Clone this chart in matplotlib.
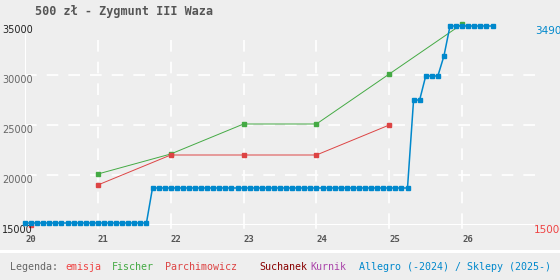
import matplotlib
matplotlib.use('Agg')
import matplotlib.pyplot as plt
import matplotlib.transforms as mtrans
from matplotlib.patches import Rectangle
import numpy as np

# --- data ---
# Allegro / Sklepy: monthly prices starting Jan 2020
allegro_vals = [15200] * 21 + [18700] * 43 + [27500, 27500, 29900, 29900, 29900, 31900] + [34900] * 8
allegro_x = [20 + m / 12 for m in range(len(allegro_vals))]

emisja_x = [20 + 1 / 12]
emisja_vals = [15000]

fischer_x = [21, 22, 23, 24, 25, 26]
fischer_vals = [20100, 22100, 25100, 25100, 30100, 35100]

parch_x = [21, 22, 23, 24, 25]
parch_vals = [19000, 22000, 22000, 22000, 25000]

year_ticks = [20, 21, 22, 23, 24, 25, 26]
y_ticks = [15000, 20000, 25000, 30000, 35000]

title = '500 zł - Zygmunt III Waza'
legend_items = [('Legenda:', '#666666'), ('emisja', '#ee4444'), ('Fischer', '#44aa44'),
                ('Parchimowicz', '#dd4444'), ('Suchanek', '#880000'), ('Kurnik', '#aa44aa'),
                ('Allegro (-2024) / Sklepy (2025-)', '#0088cc')]
legend_px = [10, 65, 112, 165, 259, 310, 359]

BG = '#eeeeee'
W, H = 560, 280

fig = plt.figure(figsize=(5.6, 2.8), dpi=100, facecolor=BG)
ax = fig.add_axes([25 / W, 1 - 225 / H, 510 / W, 200 / H])
ax.set_facecolor(BG)
ax.set_xlim(20, 27)
ax.set_ylim(15000, 35000)
for s in ax.spines.values():
    s.set_visible(False)
ax.set_xticks([])
ax.set_yticks([])

# grid
dash = (0, (7, 6))
for yv in y_ticks[1:-1]:
    ax.axhline(yv, color='white', lw=1.2, ls=dash, zorder=1)
for xv in year_ticks[1:]:
    ax.plot([xv, xv], [15000, 34000], color='white', lw=1.2, ls=dash, zorder=1)
    ax.plot([xv, xv], [15000, 14700], color='white', lw=1.2, zorder=1, clip_on=False)
ax.axhline(15000, color='white', lw=1.5, zorder=1)
ax.plot([20, 20], [15000, 34000], color='white', lw=1.5, zorder=1)

# series
ax.plot(fischer_x, fischer_vals, color='#44aa44', lw=0.7, marker='s', ms=2.6,
        zorder=3, clip_on=False)
ax.plot(parch_x, parch_vals, color='#dd4444', lw=0.7, marker='s', ms=2.6,
        zorder=3, clip_on=False)
ax.plot(emisja_x, emisja_vals, color='#ee4444', lw=0, marker='s', ms=3.2,
        zorder=3, clip_on=False)
ax.plot(allegro_x, allegro_vals, color='#0088cc', lw=1.1, marker='s', ms=2.4,
        zorder=4, clip_on=False)

# y labels on the left
tr_left = mtrans.blended_transform_factory(fig.transFigure, ax.transData)
for yv in y_ticks:
    c = '#222222' if yv in (y_ticks[0], y_ticks[-1]) else '#666666'
    ax.text(2 / W, yv, f'{yv}', transform=tr_left, ha='left', va='top',
            fontsize=7, color=c, family='DejaVu Sans')

# x labels
tr_bot = mtrans.blended_transform_factory(ax.transData, fig.transFigure)
for xv in year_ticks:
    ax.text(xv, 1 - 235 / H, f'{xv}', transform=tr_bot, ha='left', va='top',
            fontsize=6.5, color='#555555', family='DejaVu Sans Mono', fontweight='bold')

# last values on the right
ax.text(535 / W, allegro_vals[-1], f'{allegro_vals[-1]}', transform=tr_left,
        ha='left', va='top', fontsize=7.5, color='#0088cc')
ax.text(534 / W, emisja_vals[-1], f'{emisja_vals[-1]}', transform=tr_left,
        ha='left', va='top', fontsize=7.5, color='#ee4444')

# title
fig.text(35 / W, 1 - 12 / H, title, ha='left', va='center', fontsize=8.5,
         fontweight='bold', color='#555555', family='DejaVu Sans Mono')

# legend strip
fig.patches.append(Rectangle((0, 1 - 253 / H), 1, 3 / H, transform=fig.transFigure,
                             facecolor='white', edgecolor='none'))
for (txt, col), px in zip(legend_items, legend_px):
    fig.text(px / W, 1 - 267 / H, txt, ha='left', va='center', fontsize=7.2,
             color=col, family='DejaVu Sans Mono')

fig.savefig('out.png', dpi=100, facecolor=BG)
